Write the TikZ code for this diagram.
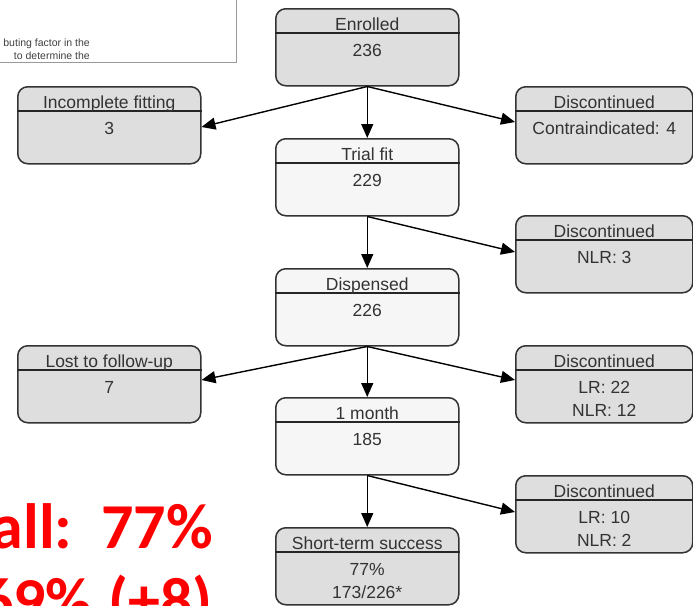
\documentclass[tikz,border=0pt]{standalone}
\usepackage{fontspec}
\setmainfont{Liberation Sans}
\newfontfamily\redfont{Carlito}
\usetikzlibrary{arrows.meta}
\definecolor{boxgray}{HTML}{DEDEDE}
\definecolor{boxlight}{HTML}{F6F6F6}
\definecolor{txtgray}{HTML}{333333}
\tikzset{
  boxsty/.style={draw=black!80, line width=1.5pt, rounded corners=10pt, inner sep=0pt},
  divsty/.style={draw=black!85, line width=1.3pt},
  txtsty/.style={font=\fontsize{17.5}{20}\selectfont, text=txtgray, inner sep=0pt},
  arr/.style={draw=black, line width=1.4pt, -{Triangle[length=14pt,width=12pt]}},
  redtxt/.style={font=\redfont\bfseries\fontsize{64}{70}\selectfont, text=red, inner sep=0pt},
  notetxt/.style={font=\fontsize{10.5}{12}\selectfont, text=black!75, inner sep=0pt},
}
% name, xleft, ytop, width, fill, title, line1, line2
\newcommand{\mkbox}[8]{%
  \node[boxsty, fill=#5, minimum width=#4pt, minimum height=77pt, anchor=north west] (#1) at (#2,#3) {};
  \draw[divsty] ([yshift=-25pt]#1.north west) -- ([yshift=-25pt]#1.north east);
  \node[txtsty, anchor=base] (#1t) at ([yshift=-22pt]#1.north) {#6};
  \node[txtsty, anchor=base] (#1a) at ([yshift=-48pt]#1.north) {#7};
  \node[txtsty, anchor=base] (#1b) at ([yshift=-71pt]#1.north) {#8};
}
\begin{document}
\begin{tikzpicture}[x=1pt, y=-1pt]
\useasboundingbox[fill=white] (0,0) rectangle (693,605);
% note box top-left
\draw[draw=black!40, line width=1pt] (-5,-5) rectangle (236,62) coordinate (noteb);
\node[notetxt, anchor=base east] (note1) at (90,46) {buting factor in the};
\node[notetxt, anchor=base east] (note2) at (90,59) {to determine the};
% boxes
\mkbox{enr}{275}{8}{183}{boxgray}{Enrolled}{236}{}
\mkbox{inc}{17}{86}{183}{boxgray}{Incomplete fitting}{3}{}
\mkbox{dci}{515}{86}{177}{boxgray}{Discontinued}{Contraindicated: 4}{}
\mkbox{tri}{275}{138}{183}{boxlight}{Trial fit}{229}{}
\mkbox{dnl}{515}{215}{177}{boxgray}{Discontinued}{NLR: 3}{}
\mkbox{dis}{275}{268}{183}{boxlight}{Dispensed}{226}{}
\mkbox{lost}{17}{345}{183}{boxgray}{Lost to follow-up}{7}{}
\mkbox{dlr}{515}{345}{177}{boxgray}{Discontinued}{LR: 22}{NLR: 12}
\mkbox{mon}{275}{397}{183}{boxlight}{1 month}{185}{}
\mkbox{dlt}{515}{475}{177}{boxgray}{Discontinued}{LR: 10}{NLR: 2}
\mkbox{sts}{275}{527}{183}{boxgray}{Short-term success}{77\%}{173/226*}
% arrows
\draw[arr] (enr.south) -- ([yshift=-41pt]inc.north east);
\draw[arr] (enr.south) -- ([yshift=-36pt]dci.north west);
\draw[arr] (enr.south) -- (tri.north);
\draw[arr] (tri.south) -- (dis.north);
\draw[arr] (tri.south) -- ([yshift=-37pt]dnl.north west);
\draw[arr] (dis.south) -- ([yshift=-35pt]lost.north east);
\draw[arr] (dis.south) -- (mon.north);
\draw[arr] (dis.south) -- ([yshift=-35pt]dlr.north west);
\draw[arr] (mon.south) -- (sts.north);
\draw[arr] (mon.south) -- ([yshift=-37pt]dlt.north west);
% red text
\node[redtxt, anchor=base east] (red1) at (213,548) {all:\hspace{0.45em}77\%};
\node[redtxt, anchor=base east] (red2) at (213,622) {69\%\hspace{0.25em}(+8)};
\end{tikzpicture}
\end{document}
